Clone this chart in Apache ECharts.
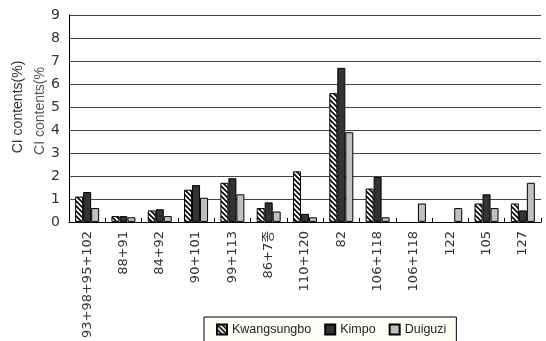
<!DOCTYPE html>
<html>
<head>
<meta charset="utf-8">
<script src="https://cdn.jsdelivr.net/npm/echarts@6/dist/echarts.min.js"></script>
<style>
  html, body { margin: 0; padding: 0; background: #fff; }
  #chart { width: 546px; height: 341px; }
</style>
</head>
<body>
<div id="chart"></div>
<script>
var categories = ['93+98+95+102', '88+91', '84+92', '90+101', '99+113', '86+7종',
    '110+120', '82', '106+118', '106+118', '122', '105', '127'];
var kwangsungbo = [1.1, 0.25, 0.5, 1.4, 1.7, 0.6, 2.2, 5.6, 1.45, 0, 0, 0.8, 0.8];
var kimpo = [1.3, 0.25, 0.55, 1.6, 1.9, 0.85, 0.35, 6.7, 1.95, 0, 0, 1.2, 0.5];
var duiguzi = [0.6, 0.2, 0.25, 1.05, 1.2, 0.45, 0.2, 3.9, 0.2, 0.8, 0.6, 0.6, 1.7];
var yTicks = [0, 1, 2, 3, 4, 5, 6, 7, 8, 9];

var numFont = '"DejaVu Sans", "Noto Sans CJK KR", sans-serif';
var txtFont = '"Liberation Sans", Arial, sans-serif';

// hatch pattern for the first series
function makeHatch() {
    var c = document.createElement('canvas');
    c.width = 5;
    c.height = 5;
    var ctx = c.getContext('2d');
    ctx.fillStyle = '#fff';
    ctx.fillRect(0, 0, 5, 5);
    ctx.strokeStyle = '#000';
    ctx.lineWidth = 1.6;
    ctx.beginPath();
    ctx.moveTo(-1, -1); ctx.lineTo(6, 6);
    ctx.moveTo(-1, 4); ctx.lineTo(1, 6);
    ctx.moveTo(4, -1); ctx.lineTo(6, 1);
    ctx.stroke();
    return c;
}

var chart = echarts.init(document.getElementById('chart'));

function bar(name, data, color) {
    return {
        name: name,
        type: 'bar',
        // zero readings are not drawn in the original
        data: data.map(function(v) { return v === 0 ? '-' : v; }),
        barWidth: 8,
        barGap: 0,
        itemStyle: { color: color, borderColor: '#000', borderWidth: 1 },
        emphasis: { disabled: true }
    };
}

var option = {
    animation: false,
    grid: { left: 69, right: 5, top: 15, bottom: 119 },
    legend: {
        left: 204,
        top: 317,
        icon: 'rect',
        itemWidth: 10,
        itemHeight: 10,
        itemGap: 13,
        padding: [6, 10, 10, 12],
        borderColor: '#000',
        borderWidth: 1,
        backgroundColor: '#fffff8',
        textStyle: { fontFamily: txtFont, fontSize: 12.5, color: '#222' },
        data: ['Kwangsungbo', 'Kimpo', 'Duiguzi']
    },
    xAxis: {
        type: 'category',
        data: categories,
        axisLine: { lineStyle: { color: '#000', width: 1 } },
        axisTick: { show: true, inside: true, length: 4, alignWithLabel: false, lineStyle: { color: '#000' } },
        axisLabel: { rotate: 90, interval: 0, fontSize: 13, color: '#333', fontFamily: numFont, margin: 9 }
    },
    yAxis: {
        type: 'value',
        min: yTicks[0],
        max: yTicks[yTicks.length - 1],
        interval: 1,
        axisLine: { show: true, lineStyle: { color: '#000', width: 1 } },
        axisTick: { show: false },
        splitLine: { lineStyle: { color: '#444', width: 1 } },
        axisLabel: { fontSize: 14, color: '#333', fontFamily: numFont, margin: 9 }
    },
    graphic: [
        {
            type: 'text', x: 18, y: 107, rotation: Math.PI / 2,
            style: { text: 'CI contents(%)', font: '14px ' + txtFont, fill: '#333', align: 'center', verticalAlign: 'middle' }
        },
        {
            type: 'text', x: 40, y: 111, rotation: Math.PI / 2,
            style: { text: 'CI contents(%', font: '14px ' + txtFont, fill: '#555', align: 'center', verticalAlign: 'middle' }
        }
    ],
    series: [
        bar('Kwangsungbo', kwangsungbo, { image: makeHatch(), repeat: 'repeat' }),
        bar('Kimpo', kimpo, '#333'),
        bar('Duiguzi', duiguzi, '#c0c0c0')
    ]
};
chart.setOption(option);
</script>
</body>
</html>
